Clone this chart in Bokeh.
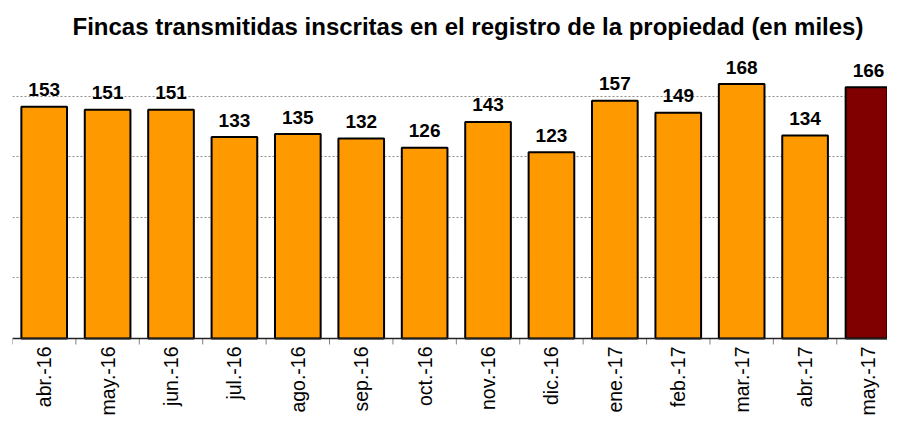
import numpy as np
from bokeh.plotting import figure
from bokeh.models import ColumnDataSource, FixedTicker, Range1d, Span
from bokeh.core.properties import value
from bokeh.embed import file_html
from bokeh.resources import INLINE

months = ["abr.-16", "may.-16", "jun.-16", "jul.-16", "ago.-16", "sep.-16", "oct.-16",
          "nov.-16", "dic.-16", "ene.-17", "feb.-17", "mar.-17", "abr.-17", "may.-17"]
values = [153, 151, 151, 133, 135, 132, 126, 143, 123, 157, 149, 168, 134, 166]
grid_ticks = [40, 80, 120, 160]

n = len(months)
x = np.arange(n) + 0.5
colors = ["#FF9900"] * (n - 1) + ["#800000"]
src = ColumnDataSource(dict(x=x, top=values, color=colors,
                            label=[str(v) for v in values]))
msrc = ColumnDataSource(dict(x=x, y=[0] * n, month=months))
tsrc = ColumnDataSource(dict(x=np.arange(n + 1), y=[0] * (n + 1)))

FONT = "Liberation Sans"
p = figure(width=887, height=417, output_backend="svg", toolbar_location=None,
           x_range=Range1d(0, n - 0.2), y_range=Range1d(-52.2, 196.8),
           x_axis_location=None, y_axis_location=None,
           title="Fincas transmitidas inscritas en el registro de la propiedad (en miles)",
           min_border_left=12, min_border_right=0, min_border_top=40,
           min_border_bottom=0)
p.title.align = "left"
p.title.text_font = FONT
p.title.text_font_size = "24px"
p.title.text_font_style = "bold"
p.title.text_color = "#000000"
p.title.standoff = 2
p.title.offset = 60
p.outline_line_color = None

p.vbar(x="x", top="top", width=0.72, bottom=0, source=src, fill_color="color",
       line_color="#000000", line_width=2)
p.text(x="x", y="top", text="label", source=src, text_align="center",
       text_baseline="alphabetic", y_offset=-17, text_font=value(FONT),
       text_font_size="19px", text_font_style="bold", text_color="#000000")

p.ygrid.ticker = FixedTicker(ticks=grid_ticks)
p.ygrid.grid_line_color = "#8c8c8c"
p.ygrid.grid_line_dash = "2 2"
p.ygrid.grid_line_width = 1
p.xgrid.visible = False

# x axis line, category-boundary ticks and rotated month labels
p.add_layout(Span(location=0, dimension="width", line_color="#222222", line_width=1.5))
p.ray(x="x", y="y", source=tsrc, length=6, length_units="screen", angle=-np.pi / 2,
      line_color="#808080", line_width=1)
p.text(x="x", y="y", text="month", source=msrc, angle=np.pi / 2,
       text_align="right", text_baseline="middle", y_offset=8,
       text_font=value(FONT), text_font_size="19.5px", text_color="#000000")

open("out.html", "w").write(file_html(p, INLINE))
